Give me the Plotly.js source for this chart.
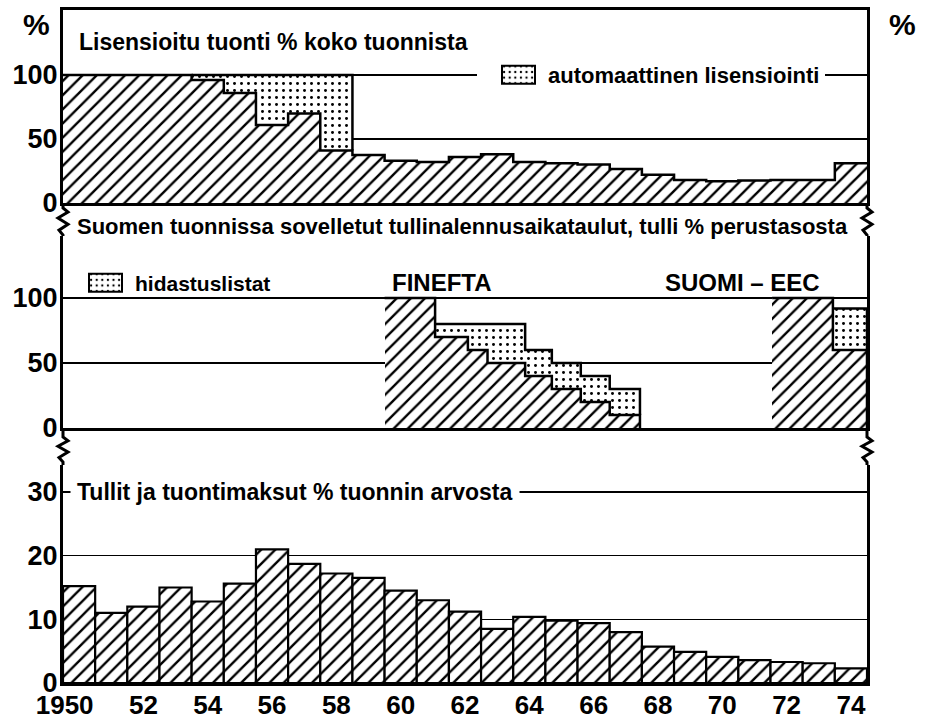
<!DOCTYPE html>
<html>
<head>
<meta charset="utf-8">
<script src="https://cdn.plot.ly/plotly-3.0.1.min.js"></script>
<style>
html,body{margin:0;padding:0;background:#fff;}
/* legend keys drawn as bordered boxes like the printed original */
.legendpoints path{ d: path('M22.5,9H-10.5V-9H22.5Z'); stroke:#000 !important; stroke-width:2px !important; }
</style>
</head>
<body>
<div id="chart" style="width:931px;height:721px;"></div>
<script>
// ---------- data ----------
const years = [1950,1951,1952,1953,1954,1955,1956,1957,1958,1959,1960,1961,1962,1963,1964,1965,1966,1967,1968,1969,1970,1971,1972,1973,1974];
// Top panel: licensed imports, % of total imports (hatched) and automatic licensing (dotted)
const licensedImports = [100,100,100,100,96,86,61,70,41,37.5,33,32,36,38,32,31,30,26.5,22,18,17,17.5,18,18,31];
const automaticLicensing = [0,0,0,0,4,14,39,30,59,0,0,0,0,0,0,0,0,0,0,0,0,0,0,0,0];
// Middle panel: tariff reduction schedules, duty % of base level
const fineftaDates = [1959.5,1961.07,1962.09,1962.7,1963.87,1964.7,1965.6,1966.5,1967.44];
const fineftaDuty = [100,70,60,50,40,30,20,10];
const fineftaSlowList = [100,80,80,80,60,50,40,30];
const eecDates = [1971.55,1973.44,1974.5];
const eecDuty = [100,60];
const eecSlowList = [100,92];
// Bottom panel: duties and import charges, % of import value
const dutiesShare = [15.2,11,12,15,12.8,15.6,21,18.7,17.2,16.5,14.5,13,11.2,8.5,10.4,9.8,9.4,8.0,5.7,4.9,4.1,3.6,3.3,3.1,2.3];
// tick labels
const xTickVals = [1950,1952,1954,1956,1958,1960,1962,1964,1966,1968,1970,1972,1974];
const xTickText = ['1950\u00a0\u00a0\u00a0\u00a0','52','54','56','58','60','62','64','66','68','70','72','74'];
const pctTicks = [0,50,100];
const dutyTicks = [0,10,20,30];

// ---------- helpers ----------
const FONT = 'Liberation Sans, Arial, sans-serif';
const X = px => (px - 63) / 804;
const Y = py => (683 - py) / 673;
const hatch = {shape:'/', fgcolor:'#000', bgcolor:'#fff', size:10, solidity:0.24, fillmode:'replace'};
const dots = {shape:'.', fgcolor:'#000', bgcolor:'#fff', size:7, solidity:0.14, fillmode:'replace'};
const outline = {color:'#000', width:2.5, shape:'hv'};

function mids(d){ const m=[]; for(let i=0;i<d.length-1;i++) m.push((d[i]+d[i+1])/2); return m; }
function widths(d){ const w=[]; for(let i=0;i<d.length-1;i++) w.push(d[i+1]-d[i]); return w; }
function diff(a,b){ return a.map((v,i)=>v-b[i]); }

const yearEdges = years.map(y=>y-0.5).concat([years[years.length-1]+0.5]);
const licTotal = licensedImports.map((v,i)=>v+automaticLicensing[i]);

const traces = [];
// ---- top panel
traces.push({type:'bar', x:years, y:licensedImports, width:1, xaxis:'x', yaxis:'y',
  marker:{color:'#fff', pattern:hatch, line:{width:0}}, showlegend:false, hoverinfo:'skip'});
traces.push({type:'bar', x:years, y:automaticLicensing, base:licensedImports, width:1, xaxis:'x', yaxis:'y',
  marker:{color:'#fff', pattern:dots, line:{width:0}}, name:'automaattinen lisensiointi',
  legend:'legend', showlegend:true, hoverinfo:'skip'});
traces.push({type:'scatter', mode:'lines', xaxis:'x', yaxis:'y', x:yearEdges,
  y:licensedImports.concat([licensedImports[licensedImports.length-1]]), line:outline, showlegend:false, hoverinfo:'skip'});
(function(){
  const idx = automaticLicensing.map((v,i)=>v>0?i:-1).filter(i=>i>=0);
  const xs = idx.map(i=>yearEdges[i]); const ys = idx.map(i=>licTotal[i]);
  const last = idx[idx.length-1];
  xs.push(yearEdges[last+1]); ys.push(licTotal[last]);
  xs.push(yearEdges[last+1]); ys.push(licensedImports[last]);
  traces.push({type:'scatter', mode:'lines', xaxis:'x', yaxis:'y', x:xs, y:ys, line:outline, showlegend:false, hoverinfo:'skip'});
})();

// ---- middle panel
function schedule(dates, duty, slow, withLegend){
  traces.push({type:'bar', x:mids(dates), width:widths(dates), y:duty, xaxis:'x2', yaxis:'y2',
    marker:{color:'#fff', pattern:hatch, line:{width:0}}, showlegend:false, hoverinfo:'skip'});
  traces.push({type:'bar', x:mids(dates), width:widths(dates), y:diff(slow,duty), base:duty, xaxis:'x2', yaxis:'y2',
    marker:{color:'#fff', pattern:dots, line:{width:0}}, name:'hidastuslistat', legend:'legend2',
    showlegend:withLegend, hoverinfo:'skip'});
  const n = duty.length;
  traces.push({type:'scatter', mode:'lines', xaxis:'x2', yaxis:'y2',
    x:dates.concat([dates[n]]), y:duty.concat([duty[n-1], 0]), line:outline, showlegend:false, hoverinfo:'skip'});
  let s = slow.findIndex((v,i)=>v>duty[i]);
  const xs = dates.slice(s), ys = slow.slice(s).concat([slow[n-1]]);
  xs.push(dates[n]); ys.push(duty[n-1]);
  traces.push({type:'scatter', mode:'lines', xaxis:'x2', yaxis:'y2', x:xs, y:ys, line:outline, showlegend:false, hoverinfo:'skip'});
}
schedule(fineftaDates, fineftaDuty, fineftaSlowList, true);
schedule(eecDates, eecDuty, eecSlowList, false);

// ---- bottom panel
traces.push({type:'bar', x:years, y:dutiesShare, width:1, xaxis:'x3', yaxis:'y3',
  marker:{color:'#fff', pattern:hatch, line:{width:2.2, color:'#000'}}, showlegend:false, hoverinfo:'skip'});

// ---------- layout ----------
const tickFont = {family:FONT, size:27, color:'#000', weight:'bold'};
const xTickFont = {family:FONT, size:26, color:'#000', weight:'bold'};
const xBase = {range:[1949.5,1974.5], showgrid:false, zeroline:false, showline:true, linecolor:'#000', linewidth:3,
  ticks:'', fixedrange:true};
function yAxis(domain, range, tv){ return {domain, range, tickvals:tv, showgrid:true, gridcolor:'#000', gridwidth:1.5,
  zeroline:false, showline:true, mirror:true, linecolor:'#000', linewidth:3, ticks:'', tickfont:tickFont,
  ticklabelstandoff:-3, fixedrange:true}; }
function yRight(over, range, tv){ return {overlaying:over, side:'right', range, tickvals:tv, showgrid:false, zeroline:false,
  showline:false, ticks:'', tickfont:tickFont, ticklabelstandoff:3, fixedrange:true}; }

const topDom = [Y(203), Y(10)], midDom = [Y(428), Y(236)], botDom = [0, Y(465)];
const topRange = [0, (203-10)/1.28], midRange = [0, (428-236)/1.3], botRange = [0, (683-465)/6.367];

function wave(x, y0, y1, w0, w1){
  const h = (y1-y0);
  const seq = [[0,0],[0,w0],[5,w0+0.15*(w1-w0)],[-5,w0+0.37*(w1-w0)],[5,w0+0.6*(w1-w0)],[-4,w0+0.82*(w1-w0)],[0,w1],[0,h]];
  let p = '';
  seq.forEach((s,i)=>{ p += (i?'L':'M') + X(x+s[0]) + ',' + Y(y0+s[1]) + ' '; });
  return {type:'path', xref:'paper', yref:'paper', path:p, line:{color:'#000', width:3}};
}
function note(px, py, text, size, anchor, extra){
  return Object.assign({xref:'paper', yref:'paper', x:X(px), y:Y(py), xanchor:anchor||'left', yanchor:'middle',
    text, showarrow:false, font:{size, family:FONT, color:'#000', weight:'bold'}}, extra||{});
}

const layout = {
  width:931, height:721, margin:{l:63, r:64, t:10, b:38}, paper_bgcolor:'#fff', plot_bgcolor:'#fff',
  font:{family:FONT, color:'#000', weight:'bold'},
  barmode:'overlay', bargap:0,
  xaxis:Object.assign({}, xBase, {anchor:'y', mirror:true, showticklabels:false}),
  xaxis2:Object.assign({}, xBase, {anchor:'y2', showticklabels:false}),
  xaxis3:Object.assign({}, xBase, {anchor:'y3', tickvals:xTickVals, ticktext:xTickText, tickfont:xTickFont, ticklabelstandoff:-3}),
  yaxis:yAxis(topDom, topRange, pctTicks),
  yaxis2:yAxis(midDom, midRange, pctTicks),
  yaxis3:yAxis(botDom, botRange, dutyTicks),
  yaxis4:yRight('y', topRange, pctTicks),
  yaxis5:yRight('y2', midRange, pctTicks),
  yaxis6:yRight('y3', botRange, dutyTicks),
  legend:{x:X(477), y:Y(75), xanchor:'left', yanchor:'middle', bgcolor:'#fff', borderwidth:0,
    font:{family:FONT, size:22, color:'#000', weight:'bold'}, itemwidth:61},
  legend2:{x:X(64), y:Y(283), xanchor:'left', yanchor:'middle', bgcolor:'rgba(0,0,0,0)', borderwidth:0,
    font:{family:FONT, size:21, color:'#000', weight:'bold'}, itemwidth:61},
  shapes:[ wave(63,203,236,5,32), wave(867,203,236,5,32), wave(63,428,465,9,34), wave(867,428,465,9,34) ],
  annotations:[
    note(36, 24, '%', 30, 'center'),
    note(903, 24, '%', 30, 'center'),
    note(77, 42, 'Lisensioitu tuonti % koko tuonnista', 23),
    note(75, 227, 'Suomen tuonnissa sovelletut tullinalennusaikataulut, tulli % perustasosta', 22),
    note(390, 282, 'FINEFTA', 24),
    note(663, 282, 'SUOMI – EEC', 24),
    note(70, 492, 'Tullit ja tuontimaksut % tuonnin arvosta', 23, 'left', {bgcolor:'#fff', borderpad:6})
  ]
};

Plotly.newPlot('chart', traces, layout, {staticPlot:true, displayModeBar:false});
</script>
</body>
</html>
